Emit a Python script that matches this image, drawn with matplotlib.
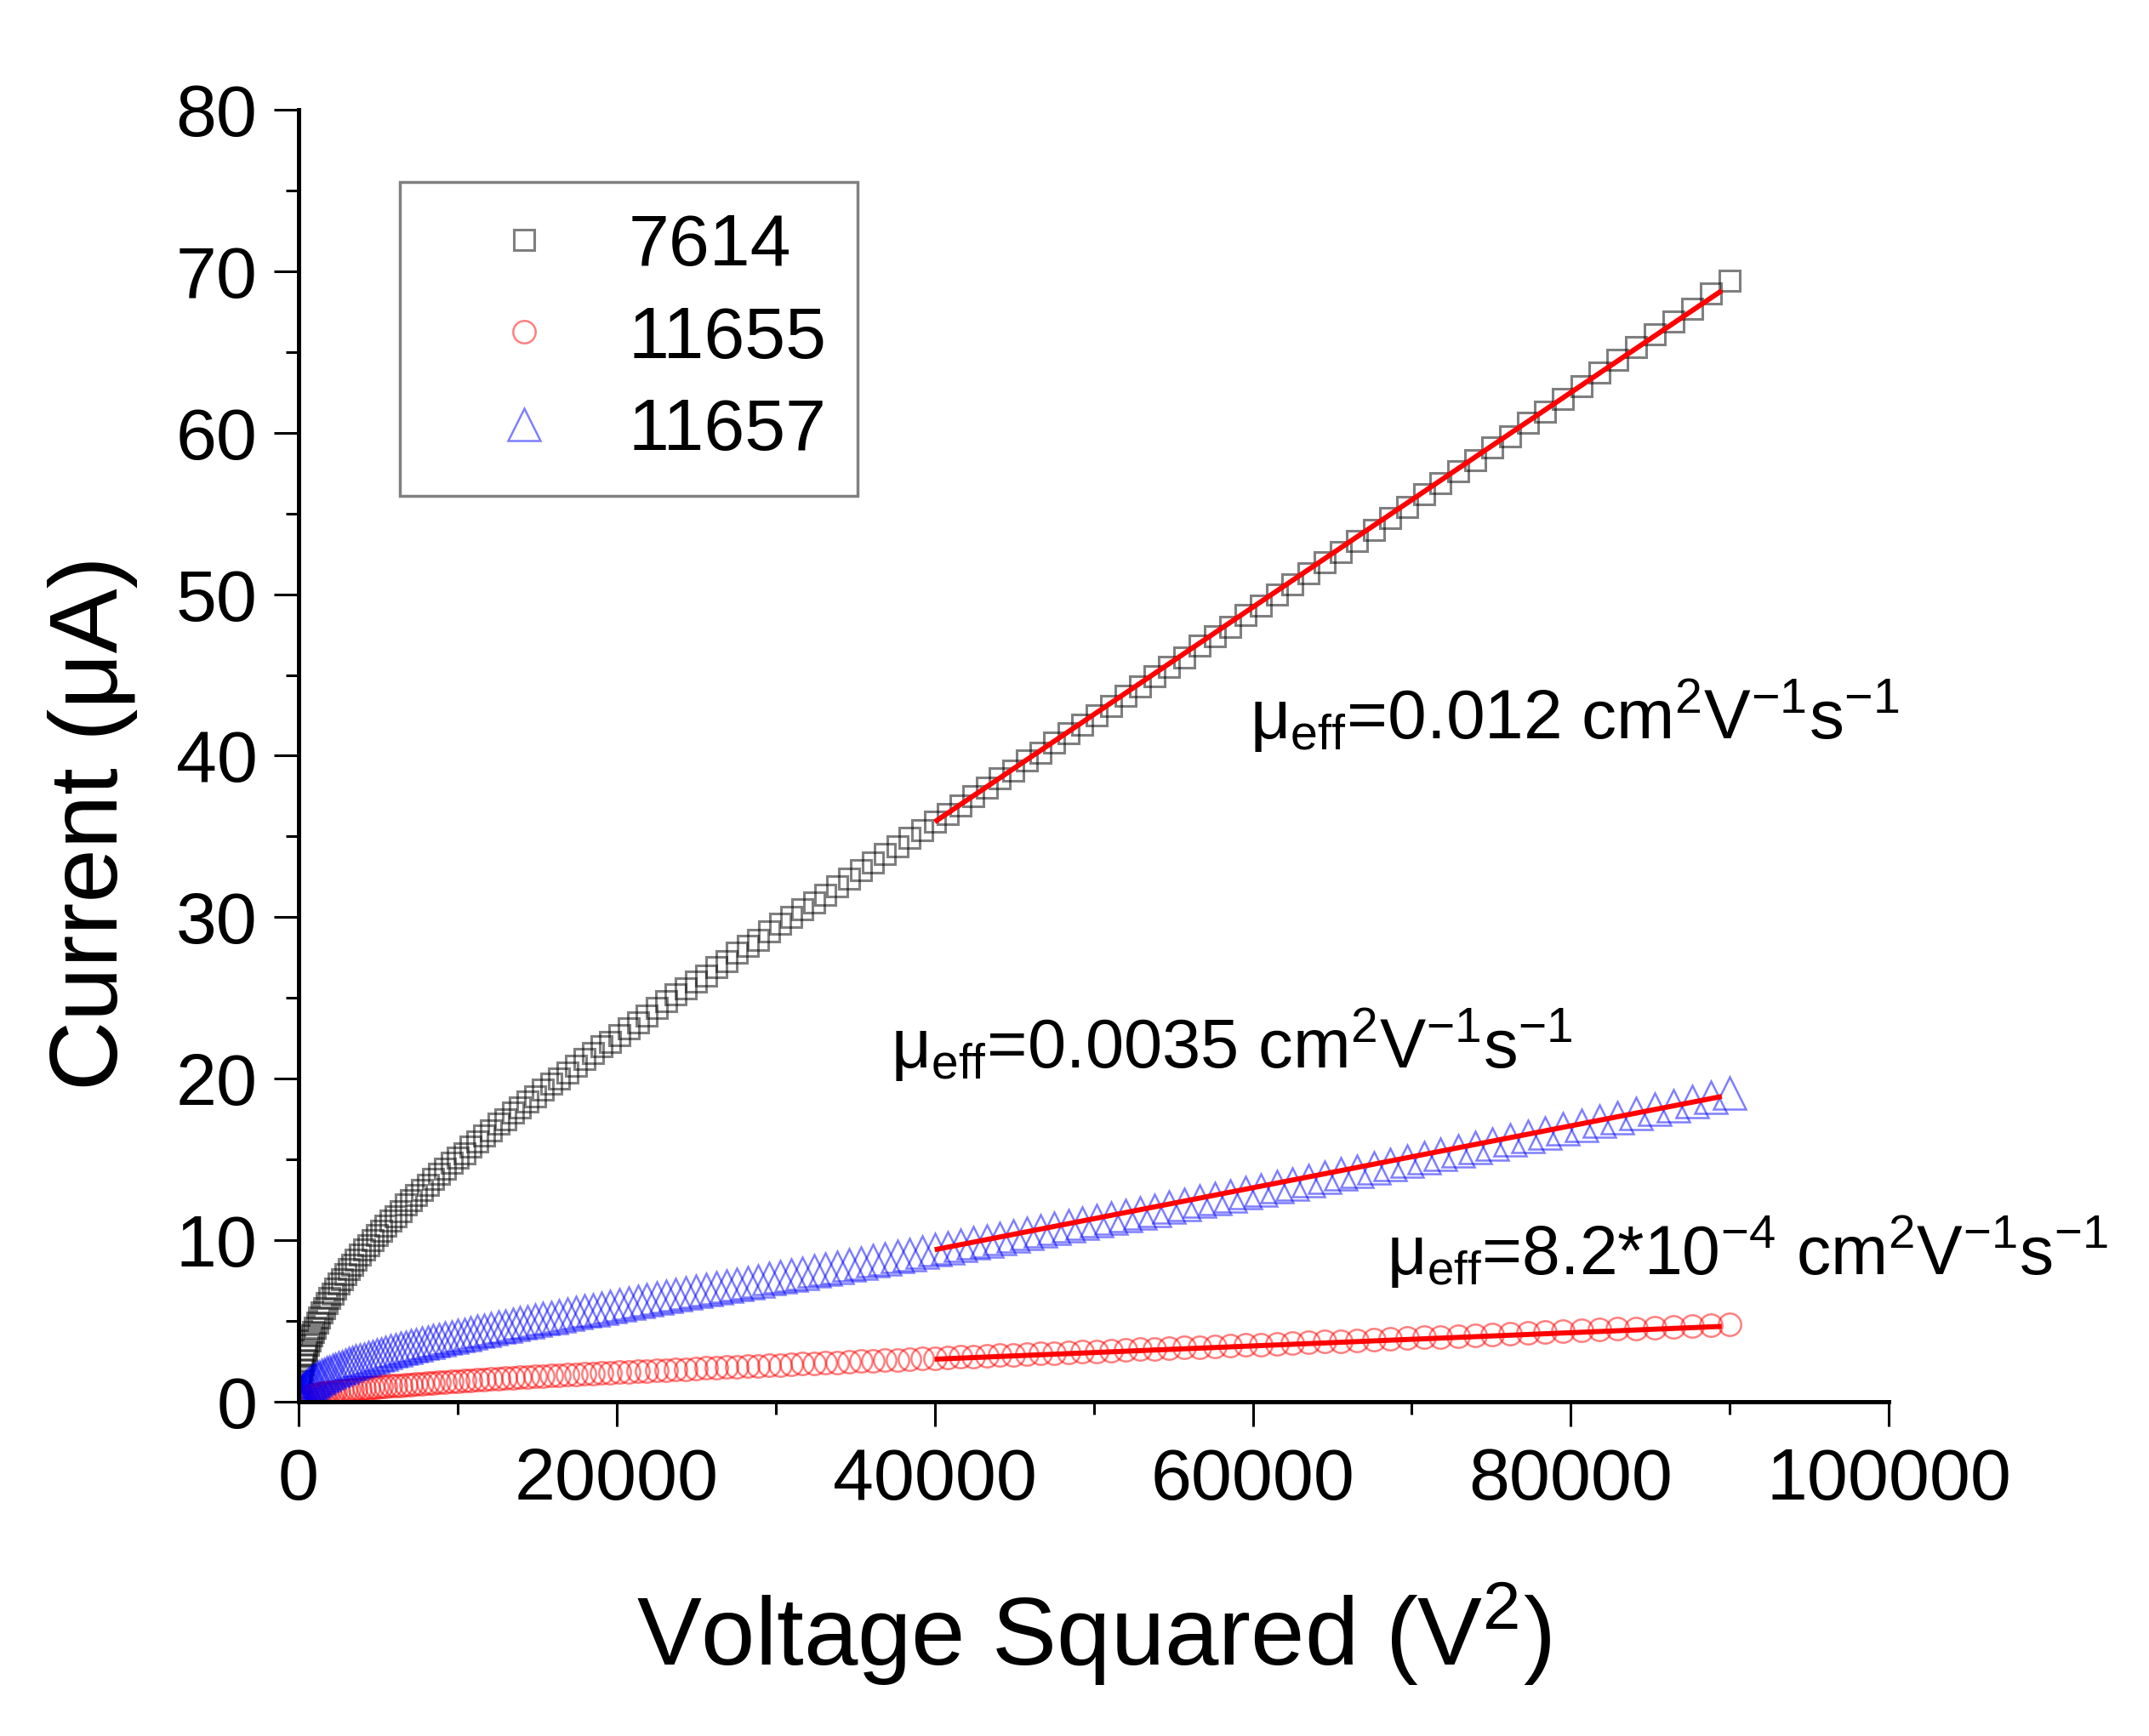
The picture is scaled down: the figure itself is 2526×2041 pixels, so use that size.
import numpy as np
import matplotlib
matplotlib.use("Agg")
import matplotlib.pyplot as plt
from matplotlib.ticker import MultipleLocator

plt.rcParams["font.family"] = ["Liberation Sans", "DejaVu Sans"]
plt.rcParams["mathtext.fontset"] = "custom"
plt.rcParams["mathtext.rm"] = "Liberation Sans"
plt.rcParams["mathtext.it"] = "Liberation Sans:italic"
plt.rcParams["mathtext.default"] = "regular"

# Voltage sweep (V); the chart plots against V^2
voltage = [
    0, 2, 4, 6, 8, 10, 12, 14, 16, 18, 20, 22, 24, 26, 28,
    30, 32, 34, 36, 38, 40, 42, 44, 46, 48, 50, 52, 54, 56, 58,
    60, 62, 64, 66, 68, 70, 72, 74, 76, 78, 80, 82, 84, 86, 88,
    90, 92, 94, 96, 98, 100, 102, 104, 106, 108, 110, 112, 114, 116, 118,
    120, 122, 124, 126, 128, 130, 132, 134, 136, 138, 140, 142, 144, 146, 148,
    150, 152, 154, 156, 158, 160, 162, 164, 166, 168, 170, 172, 174, 176, 178,
    180, 182, 184, 186, 188, 190, 192, 194, 196, 198, 200, 202, 204, 206, 208,
    210, 212, 214, 216, 218, 220, 222, 224, 226, 228, 230, 232, 234, 236, 238,
    240, 242, 244, 246, 248, 250, 252, 254, 256, 258, 260, 262, 264, 266, 268,
    270, 272, 274, 276, 278, 280, 282, 284, 286, 288, 290, 292, 294, 296, 298,
    300,
]

# Current (uA) for sample 7614
current_7614 = [
    0.0, 0.3, 0.6, 0.9, 1.2, 1.5, 1.7, 2.0, 2.3, 2.6,
    2.9, 3.2, 3.5, 3.8, 4.1, 4.3, 4.6, 4.9, 5.2, 5.5,
    5.8, 6.1, 6.4, 6.7, 7.0, 7.3, 7.6, 7.9, 8.2, 8.5,
    8.8, 9.1, 9.4, 9.7, 10.0, 10.3, 10.6, 10.9, 11.2, 11.5,
    11.8, 12.2, 12.5, 12.8, 13.1, 13.4, 13.8, 14.1, 14.4, 14.8,
    15.1, 15.4, 15.8, 16.1, 16.5, 16.8, 17.2, 17.5, 17.9, 18.2,
    18.6, 18.9, 19.3, 19.7, 20.0, 20.4, 20.8, 21.2, 21.6, 22.0,
    22.3, 22.7, 23.1, 23.5, 23.9, 24.4, 24.8, 25.2, 25.6, 26.0,
    26.4, 26.9, 27.3, 27.8, 28.2, 28.6, 29.1, 29.6, 30.0, 30.5,
    30.9, 31.4, 31.9, 32.4, 32.9, 33.4, 33.9, 34.4, 34.9, 35.4,
    35.9, 36.4, 36.9, 37.5, 38.0, 38.6, 39.1, 39.7, 40.2, 40.8,
    41.4, 41.9, 42.5, 43.1, 43.7, 44.3, 44.9, 45.5, 46.1, 46.8,
    47.4, 48.0, 48.7, 49.3, 50.0, 50.6, 51.3, 52.0, 52.6, 53.3,
    54.0, 54.7, 55.4, 56.2, 56.9, 57.6, 58.3, 59.1, 59.8, 60.6,
    61.3, 62.1, 62.9, 63.7, 64.5, 65.3, 66.1, 66.9, 67.7, 68.6,
    69.4,
]

# Current (uA) for sample 11655
current_11655 = [
    0.00, 0.03, 0.05, 0.08, 0.11, 0.13, 0.16, 0.19, 0.21, 0.24,
    0.27, 0.29, 0.32, 0.34, 0.37, 0.39, 0.42, 0.45, 0.47, 0.50,
    0.52, 0.55, 0.57, 0.60, 0.62, 0.65, 0.67, 0.70, 0.72, 0.75,
    0.77, 0.80, 0.82, 0.85, 0.87, 0.90, 0.92, 0.95, 0.97, 0.99,
    1.02, 1.04, 1.07, 1.09, 1.12, 1.14, 1.17, 1.19, 1.22, 1.24,
    1.27, 1.30, 1.32, 1.35, 1.37, 1.40, 1.42, 1.45, 1.47, 1.50,
    1.53, 1.55, 1.58, 1.61, 1.63, 1.66, 1.69, 1.71, 1.74, 1.77,
    1.79, 1.82, 1.85, 1.88, 1.91, 1.93, 1.96, 1.99, 2.02, 2.05,
    2.08, 2.11, 2.13, 2.16, 2.19, 2.22, 2.25, 2.28, 2.31, 2.35,
    2.38, 2.41, 2.44, 2.47, 2.50, 2.54, 2.57, 2.60, 2.63, 2.67,
    2.70, 2.73, 2.77, 2.80, 2.84, 2.87, 2.91, 2.94, 2.98, 3.01,
    3.05, 3.09, 3.12, 3.16, 3.20, 3.24, 3.27, 3.31, 3.35, 3.39,
    3.43, 3.47, 3.51, 3.55, 3.59, 3.63, 3.68, 3.72, 3.76, 3.80,
    3.85, 3.89, 3.93, 3.98, 4.02, 4.07, 4.12, 4.16, 4.21, 4.25,
    4.30, 4.35, 4.40, 4.45, 4.50, 4.55, 4.60, 4.65, 4.70, 4.75,
    4.80,
]

# Current (uA) for sample 11657
current_11657 = [
    0.00, 0.09, 0.18, 0.27, 0.36, 0.45, 0.53, 0.62, 0.71, 0.79,
    0.88, 0.96, 1.05, 1.13, 1.21, 1.29, 1.38, 1.46, 1.54, 1.62,
    1.70, 1.78, 1.86, 1.94, 2.02, 2.10, 2.18, 2.26, 2.34, 2.42,
    2.50, 2.57, 2.65, 2.73, 2.81, 2.89, 2.97, 3.05, 3.13, 3.21,
    3.29, 3.37, 3.45, 3.53, 3.61, 3.69, 3.77, 3.85, 3.93, 4.02,
    4.10, 4.18, 4.27, 4.35, 4.44, 4.52, 4.61, 4.70, 4.78, 4.87,
    4.96, 5.05, 5.14, 5.23, 5.33, 5.42, 5.51, 5.61, 5.70, 5.80,
    5.90, 6.00, 6.10, 6.20, 6.30, 6.40, 6.50, 6.61, 6.72, 6.82,
    6.93, 7.04, 7.15, 7.27, 7.38, 7.49, 7.61, 7.73, 7.85, 7.97,
    8.09, 8.21, 8.34, 8.47, 8.60, 8.73, 8.86, 8.99, 9.13, 9.26,
    9.40, 9.54, 9.68, 9.83, 9.97, 10.12, 10.27, 10.42, 10.57, 10.73,
    10.89, 11.05, 11.21, 11.37, 11.54, 11.70, 11.87, 12.04, 12.22, 12.40,
    12.57, 12.75, 12.94, 13.12, 13.31, 13.50, 13.69, 13.89, 14.09, 14.29,
    14.49, 14.69, 14.90, 15.11, 15.32, 15.54, 15.76, 15.98, 16.20, 16.43,
    16.65, 16.89, 17.12, 17.36, 17.60, 17.84, 18.09, 18.34, 18.59, 18.84,
    19.10,
]

# Linear fits over the high-field region (V^2, uA)
fit_x = [40000, 89500]
fit_7614 = [35.9, 68.8]
fit_11655 = [2.63, 4.66]
fit_11657 = [9.41, 18.9]

labels = ["7614", "11655", "11657"]
mobility_texts = [
    r"μ$_{eff}$=0.012 cm$^{2}$V$^{-1}$s$^{-1}$",
    r"μ$_{eff}$=0.0035 cm$^{2}$V$^{-1}$s$^{-1}$",
    r"μ$_{eff}$=8.2*10$^{-4}$ cm$^{2}$V$^{-1}$s$^{-1}$",
]


def plot_mobility_chart(output_path):
    """Draws current versus voltage squared for the three samples."""
    v_squared = np.array(voltage) ** 2

    fig = plt.figure(figsize=(25.26, 20.41), dpi=100)
    ax = fig.add_axes([0.1390, 0.1926, 0.7399, 0.7442])

    sq, = ax.plot(v_squared, current_7614, linestyle="none", marker="s", ms=17,
                  mfc="none", mec="black", mew=2.2, alpha=0.5, label=labels[0])
    ci, = ax.plot(v_squared, current_11655, linestyle="none", marker="o", ms=19,
                  mfc="none", mec="red", mew=1.8, alpha=0.5, label=labels[1])
    tr, = ax.plot(v_squared, current_11657, linestyle="none", marker="^", ms=28,
                  mfc="none", mec="blue", mew=1.8, alpha=0.5, label=labels[2])

    for fit_y in (fit_7614, fit_11657, fit_11655):
        ax.plot(fit_x, fit_y, color="#ff0000", lw=4.3, solid_capstyle="butt", zorder=5)

    # Mobility annotations
    ax.text(59800, 41.0, mobility_texts[0], fontsize=59, va="baseline", ha="left")
    ax.text(37240, 20.6, mobility_texts[1], fontsize=58.5, va="baseline", ha="left")
    ax.text(68430, 7.9, mobility_texts[2], fontsize=58, va="baseline", ha="left")

    ax.set_xlim(0, 100000)
    ax.set_ylim(0, 80)
    ax.xaxis.set_major_locator(MultipleLocator(20000))
    ax.xaxis.set_minor_locator(MultipleLocator(10000))
    ax.yaxis.set_major_locator(MultipleLocator(10))
    ax.yaxis.set_minor_locator(MultipleLocator(5))

    for side in ("top", "right"):
        ax.spines[side].set_visible(False)
    for side in ("left", "bottom"):
        ax.spines[side].set_linewidth(3.6)

    ax.tick_params(which="major", direction="out", length=21, width=2.2, labelsize=62)
    ax.tick_params(which="minor", direction="out", length=11, width=2.2)
    ax.tick_params(axis="y", which="major", pad=14)
    ax.tick_params(axis="x", which="major", pad=17)

    ax.set_xlabel("Voltage Squared (V$^{2}$)", fontsize=82, va="baseline")
    ax.xaxis.set_label_coords(0.5, -0.204)
    ax.set_ylabel("Current (μA)", fontsize=82, va="baseline")
    ax.yaxis.set_label_coords(-0.114, 0.448)

    leg = ax.legend(handles=[sq, ci, tr], labels=labels, loc="upper left",
                    bbox_to_anchor=(470 / 2526, 1 - 214 / 2041),
                    bbox_transform=fig.transFigure, borderaxespad=0,
                    fontsize=62, numpoints=1, handlelength=2.55,
                    handletextpad=0.15, labelspacing=0.33, borderpad=0.42,
                    fancybox=False, framealpha=1, edgecolor="#808080")
    leg.get_frame().set_linewidth(2.5)

    fig.savefig(output_path, dpi=100)
    plt.close(fig)


if __name__ == "__main__":
    plot_mobility_chart("out.png")
